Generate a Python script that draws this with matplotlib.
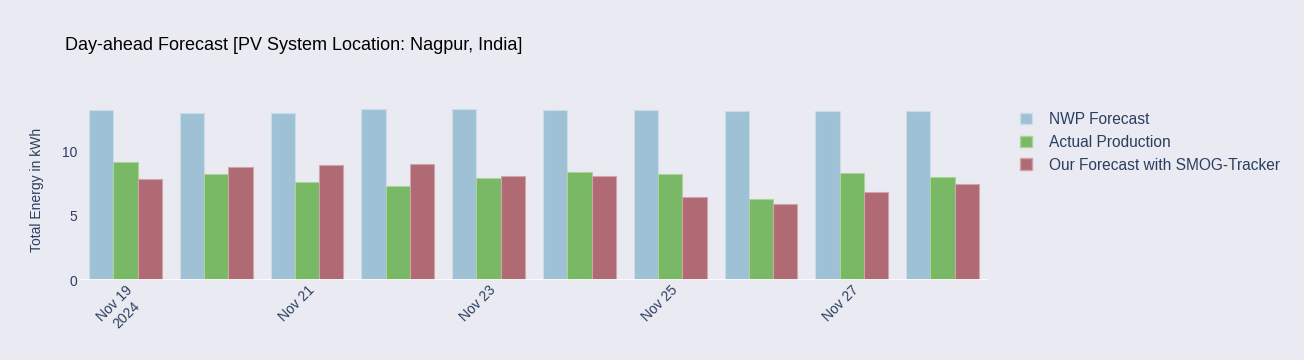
import numpy as np
import pandas as pd
import matplotlib.pyplot as plt
from matplotlib.patches import Patch

plt.rcParams.update({
    'font.family': ['Liberation Sans', 'DejaVu Sans'],
    'figure.dpi': 100,
})

# data
dates = pd.date_range('2024-11-19', '2024-11-28', freq='D')
nwp_forecast = [13.30, 13.02, 13.07, 13.36, 13.34, 13.30, 13.25, 13.23, 13.18, 13.18]
actual_production = [9.22, 8.28, 7.66, 7.37, 7.94, 8.46, 8.26, 6.35, 8.39, 8.07]
our_forecast = [7.89, 8.85, 9.01, 9.09, 8.15, 8.10, 6.51, 5.91, 6.85, 7.47]
series_names = ['NWP Forecast', 'Actual Production', 'Our Forecast with SMOG-Tracker']
colors = ['#9ec1d6', '#79b864', '#b06a73']
edge_colors = ['#c8dcea', '#a9d49a', '#d0a4aa']

bg = '#eaeaf2'
tick_color = '#2a3f5f'

fig = plt.figure(figsize=(13.04, 3.6), facecolor=bg)
ax = fig.add_axes([80 / 1304, 1 - 280 / 360, 908 / 1304, 180 / 360])
ax.set_facecolor(bg)

x = np.arange(len(dates))
bar_w = 0.8 / 3
for i, (vals, c, ec) in enumerate(zip([nwp_forecast, actual_production, our_forecast], colors, edge_colors)):
    ax.bar(x + (i - 1) * bar_w, vals, width=bar_w, color=c, edgecolor=ec,
           linewidth=0.8, zorder=2)

ax.set_xlim(-0.5, len(dates) - 0.5)
ax.set_ylim(0, 14.06)
ax.axhline(0, color='white', linewidth=2, zorder=3)

for s in ax.spines.values():
    s.set_visible(False)

ax.set_yticks([0, 5, 10])
ax.tick_params(axis='y', length=0, pad=2, labelsize=10, labelcolor=tick_color)
ax.set_ylabel('Total Energy in kWh', fontsize=10, color=tick_color, labelpad=13)

tick_idx = x[::2]
labels = []
for j in tick_idx:
    d = dates[j]
    lab = d.strftime('%b %d').replace(' 0', ' ')
    if j == 0:
        lab += '\n' + d.strftime('%Y')
    labels.append(lab)
ax.set_xticks(tick_idx)
ax.set_xticklabels(labels, rotation=45, ha='right', va='top',
                   rotation_mode='anchor', multialignment='center')
ax.tick_params(axis='x', length=0, pad=2, labelsize=10, labelcolor=tick_color)

fig.text(65 / 1304, 1 - 45 / 360, 'Day-ahead Forecast [PV System Location: Nagpur, India]',
         fontsize=13, color='black', va='center', ha='left')

handles = [Patch(facecolor=c, edgecolor=ec, label=n)
           for n, c, ec in zip(series_names, colors, edge_colors)]
leg = fig.legend(handles=handles, loc='upper left',
                 bbox_to_anchor=(1006 / 1304, 1 - 98 / 360),
                 frameon=False, fontsize=11.2, labelcolor=tick_color,
                 handlelength=0.75, handleheight=0.75, handletextpad=1.1,
                 labelspacing=0.5)

fig.savefig('out.png', dpi=100, facecolor=bg)
